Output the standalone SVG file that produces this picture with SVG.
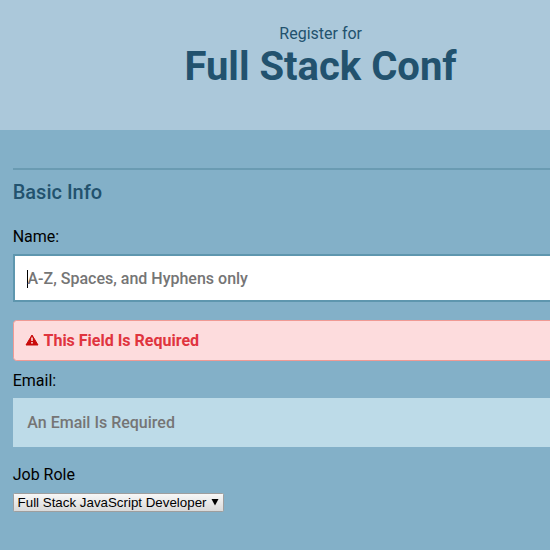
<svg xmlns="http://www.w3.org/2000/svg" width="550" height="550" viewBox="0 0 550 550">
<defs>
<linearGradient id="sel" x1="0" y1="0" x2="0" y2="1"><stop offset="0" stop-color="#f8f8f8"/><stop offset="1" stop-color="#d9d9d9"/></linearGradient>
</defs>
<style>
text{font-family:Roboto,"Liberation Sans",sans-serif}
.h{fill:#22526e}
.l{font-size:16px;fill:#000}
.p{font-size:16px;font-weight:500;fill:#757575}
</style>
<rect width="550" height="550" fill="#83b0c8"/>
<rect id="header" width="550" height="130" fill="#abc8da"/>
<text class="h" x="320.700" y="39" font-size="16" text-anchor="middle">Register for</text>
<text class="h" x="320.500" y="80" font-size="40" font-weight="700" text-anchor="middle">Full Stack Conf</text>
<rect x="13" y="168" width="537" height="2" fill="#6a9bb2"/>
<text class="h" x="12.700" y="199" font-size="20" font-weight="500">Basic Info</text>
<text class="l" x="12.700" y="242">Name:</text>
<g id="name-input">
<rect x="14" y="255" width="538" height="46" fill="#fff" stroke="#5e96ae" stroke-width="2"/>
<rect x="27" y="270" width="1" height="18" fill="#000"/>
<text class="p" x="27.500" y="284">A-Z, Spaces, and Hyphens only</text>
</g>
<g id="error">
<rect x="13.500" y="320.500" width="544" height="40" rx="3" fill="#fddcdd" stroke="#f09a94"/>
<path d="M32 335l6 10h-12z" fill="#c90b0b" stroke="#c90b0b" stroke-width="1" stroke-linejoin="round"/>
<rect x="31.200" y="337.500" width="1.600" height="3.500" fill="#fddcdd"/>
<rect x="31.200" y="342" width="1.600" height="1.600" fill="#fddcdd"/>
<text x="43.500" y="346" font-size="16" font-weight="700" fill="#e0343e">This Field Is Required</text>
</g>
<text class="l" x="12.700" y="386">Email:</text>
<g id="email-input">
<rect x="13" y="398" width="537" height="49" fill="#bddbe8"/>
<text class="p" x="27.300" y="428">An Email Is Required</text>
</g>
<text class="l" x="12.700" y="480">Job Role</text>
<g id="job-select">
<rect x="13.500" y="493.500" width="210" height="18" rx="1" fill="url(#sel)" stroke="#9e9e9e"/>
<text x="17.600" y="507" font-size="13.333" style="font-family:'Liberation Sans',sans-serif" fill="#000">Full Stack JavaScript Developer</text>
<path d="M211.500 499h7l-3.500 6.500z" fill="#000"/>
</g>
</svg>
